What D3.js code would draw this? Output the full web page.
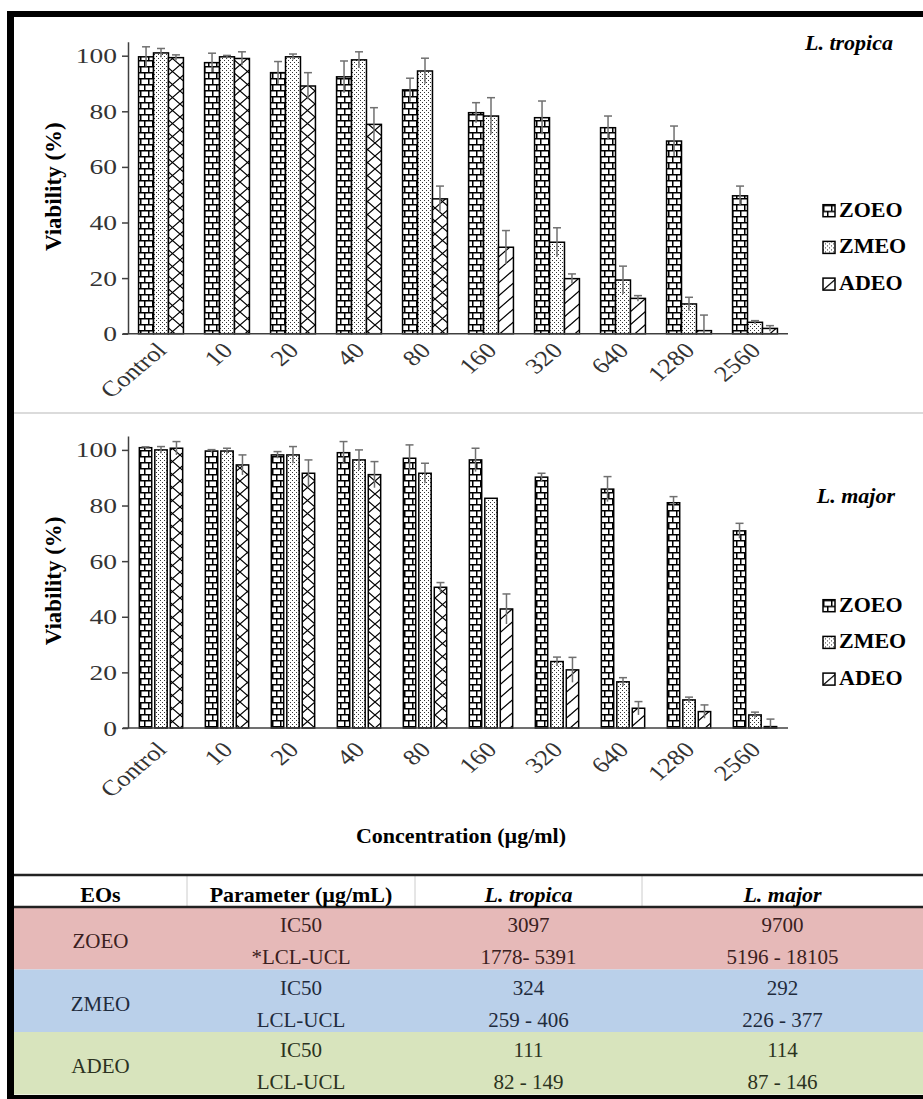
<!DOCTYPE html>
<html>
<head>
<meta charset="utf-8">
<script src="https://cdn.jsdelivr.net/npm/d3@7/dist/d3.min.js"></script>
<style>
  body { margin: 0; background: #fff; }
  svg text { font-family: 'Liberation Serif', 'Times New Roman', serif; }
</style>
</head>
<body>
<div id="chart"></div>
<script>
// Viability of Leishmania promastigotes vs. essential oil concentration
const concentrations = ['Control', '10', '20', '40', '80', '160', '320', '640', '1280', '2560'];
const series = ['ZOEO', 'ZMEO', 'ADEO'];

// L. tropica (top panel)
const tropicaZOEO = [99.6, 97.5, 93.9, 92.4, 87.7, 79.5, 77.7, 74.1, 69.3, 49.6];
const tropicaZOEOErr = [3.6, 3.4, 4.0, 5.7, 4.2, 3.6, 6.0, 4.2, 5.4, 3.5];
const tropicaZMEO = [101.0, 99.6, 99.6, 98.5, 94.5, 78.3, 32.9, 19.3, 10.7, 4.1];
const tropicaZMEOErr = [1.6, 0.5, 1.0, 2.9, 4.6, 6.6, 5.2, 5.0, 2.4, 0.6];
const tropicaADEO = [99.3, 99.0, 89.1, 75.3, 48.5, 31.1, 19.8, 12.7, 1.1, 1.9];
const tropicaADEOErr = [1.0, 2.4, 4.8, 6.0, 4.6, 6.0, 1.7, 1.0, 5.6, 1.0];

// L. major (bottom panel)
const majorZOEO = [100.8, 99.6, 98.2, 99.0, 97.0, 96.4, 90.2, 85.9, 81.0, 70.9];
const majorZOEOErr = [0.3, 0.5, 1.2, 4.0, 4.8, 4.2, 1.4, 4.5, 2.2, 2.7];
const majorZMEO = [100.0, 99.6, 98.2, 96.4, 91.6, 82.6, 23.9, 16.6, 10.1, 4.7];
const majorZMEOErr = [1.2, 1.0, 3.0, 3.6, 3.6, 0, 1.6, 1.5, 1.0, 1.0];
const majorADEO = [100.6, 94.6, 91.6, 91.1, 50.6, 42.8, 20.9, 7.1, 5.9, 0.5];
const majorADEOErr = [2.4, 3.6, 4.8, 4.7, 1.7, 5.4, 4.5, 2.4, 2.4, 2.7];

const yTicks = [0, 20, 40, 60, 80, 100];

// IC50 table
const tableHeaders = ['EOs', 'Parameter (µg/mL)', 'L. tropica', 'L. major'];
const eoNames = ['ZOEO', 'ZMEO', 'ADEO'];
const paramLabels = [['IC50', '*LCL-UCL'], ['IC50', 'LCL-UCL'], ['IC50', 'LCL-UCL']];
const tropicaIC50 = ['3097', '324', '111'];
const tropicaCL = ['1778- 5391', '259 - 406', '82 - 149'];
const majorIC50 = ['9700', '292', '114'];
const majorCL = ['5196 - 18105', '226 - 377', '87 - 146'];

const W = 923, H = 1099;
const svg = d3.select('#chart').append('svg')
  .attr('width', W).attr('height', H)
  .style('display', 'block');

// ---- patterns ----
const defs = svg.append('defs');

const brick = defs.append('pattern').attr('id', 'brick')
  .attr('patternUnits', 'userSpaceOnUse').attr('width', 8).attr('height', 12);
brick.append('rect').attr('width', 8).attr('height', 12).attr('fill', '#fff');
brick.append('path')
  .attr('d', 'M0,0.75H8M0,6.75H8M0.75,0V6.75M4.75,6.75V12')
  .attr('stroke', '#000').attr('stroke-width', 1.5).attr('fill', 'none');

const dots = defs.append('pattern').attr('id', 'dots')
  .attr('patternUnits', 'userSpaceOnUse').attr('width', 4).attr('height', 4);
dots.append('rect').attr('width', 4).attr('height', 4).attr('fill', '#fff');
dots.append('rect').attr('x', 0).attr('y', 0).attr('width', 1).attr('height', 1).attr('fill', '#333');
dots.append('rect').attr('x', 2).attr('y', 2).attr('width', 1).attr('height', 1).attr('fill', '#333');

const cross = defs.append('pattern').attr('id', 'cross')
  .attr('patternUnits', 'userSpaceOnUse').attr('width', 15).attr('height', 13);
cross.append('rect').attr('width', 15).attr('height', 13).attr('fill', '#fff');
cross.append('path')
  .attr('d', 'M0,0L15,13M15,0L0,13')
  .attr('stroke', '#000').attr('stroke-width', 1.2).attr('fill', 'none');

const diag = defs.append('pattern').attr('id', 'diag')
  .attr('patternUnits', 'userSpaceOnUse').attr('width', 15).attr('height', 13);
diag.append('rect').attr('width', 15).attr('height', 13).attr('fill', '#fff');
diag.append('path')
  .attr('d', 'M0,13L15,0M-2,2L2,-2M13,15L17,11')
  .attr('stroke', '#000').attr('stroke-width', 1.3).attr('fill', 'none');

function fillFor(s, i) {
  if (s === 'ZOEO') return 'url(#brick)';
  if (s === 'ZMEO') return 'url(#dots)';
  return i < 5 ? 'url(#cross)' : 'url(#diag)';
}

// ---- panels ----
function drawPanel(opts) {
  const { values, errors, yBottom, yTop, subPadding, species, speciesX, speciesY,
          legendY, tickDy } = opts;

  const g = svg.append('g');

  const x = d3.scaleBand()
    .domain(concentrations)
    .range([128, 788])
    .paddingInner(0.32)
    .paddingOuter(0.16);

  const xs = d3.scaleBand()
    .domain(series)
    .range([0, x.bandwidth()])
    .paddingInner(subPadding)
    .paddingOuter(subPadding / 4);

  const y = d3.scaleLinear().domain([0, 105]).range([yBottom, yTop]);

  // y axis
  const yAxis = g.append('g')
    .attr('transform', 'translate(128,0)')
    .call(d3.axisLeft(y).tickValues(yTicks).tickSize(6).tickSizeOuter(0));
  yAxis.select('.domain').attr('stroke', '#404040').attr('stroke-width', 1.5);
  yAxis.selectAll('.tick line').attr('stroke', '#404040').attr('stroke-width', 1.5);
  yAxis.selectAll('.tick text')
    .attr('x', 0).attr('dy', 0)
    .attr('transform', 'translate(-11,7) scale(1.25,1)')
    .attr('font-size', 22).attr('fill', '#333')
    .style('font-family', "'Liberation Serif', serif");

  // bars
  const rows = [];
  concentrations.forEach((c, i) => {
    series.forEach((s, k) => {
      rows.push({ c, i, s, v: values[k][i], e: errors[k][i] });
    });
  });

  g.selectAll('.bar')
    .data(rows)
    .join('rect')
    .attr('class', 'bar')
    .attr('x', d => x(d.c) + xs(d.s))
    .attr('y', d => y(d.v))
    .attr('width', xs.bandwidth())
    .attr('height', d => y(0) - y(d.v))
    .attr('fill', d => fillFor(d.s, d.i))
    .attr('stroke', '#000')
    .attr('stroke-width', 1.5);

  // error bars
  const eb = g.selectAll('.err')
    .data(rows.filter(d => d.e > 0))
    .join('g')
    .attr('class', 'err')
    .attr('stroke', '#707070')
    .attr('stroke-width', 1.5);
  eb.append('line')
    .attr('x1', d => x(d.c) + xs(d.s) + xs.bandwidth() / 2)
    .attr('x2', d => x(d.c) + xs(d.s) + xs.bandwidth() / 2)
    .attr('y1', d => y(Math.max(0, d.v - d.e)))
    .attr('y2', d => y(d.v + d.e));
  eb.append('line')
    .attr('x1', d => x(d.c) + xs(d.s) + xs.bandwidth() / 2 - 4)
    .attr('x2', d => x(d.c) + xs(d.s) + xs.bandwidth() / 2 + 4)
    .attr('y1', d => y(d.v + d.e))
    .attr('y2', d => y(d.v + d.e));

  // x axis
  const xAxis = g.append('g')
    .attr('transform', `translate(0,${yBottom})`)
    .call(d3.axisBottom(x).tickSize(0).tickSizeOuter(0));
  xAxis.select('.domain')
    .attr('d', 'M123,0H788')
    .attr('stroke', '#404040').attr('stroke-width', 1.5);
  xAxis.selectAll('.tick text')
    .attr('y', 0).attr('dy', 0)
    .attr('text-anchor', 'end')
    .attr('transform', `translate(7,${tickDy}) scale(1.2,1) rotate(-45)`)
    .attr('font-size', 22).attr('fill', '#333')
    .style('font-family', "'Liberation Serif', serif");

  // y label
  const mid = (yBottom + y(100)) / 2 - 8;
  g.append('text')
    .attr('transform', `translate(61,${mid}) rotate(-90)`)
    .attr('text-anchor', 'middle')
    .attr('font-size', 23).attr('font-weight', 'bold')
    .text('Viability (%)');

  // species label
  g.append('text')
    .attr('x', speciesX).attr('y', speciesY)
    .attr('text-anchor', 'end')
    .attr('font-size', 22).attr('font-weight', 'bold').attr('font-style', 'italic')
    .text(species);

  // legend
  const lg = g.selectAll('.legend')
    .data(series)
    .join('g')
    .attr('class', 'legend')
    .attr('transform', (d, k) => `translate(823,${legendY + k * 36.7})`);
  lg.append('rect')
    .attr('x', 0).attr('y', -12)
    .attr('width', 12).attr('height', 12)
    .attr('fill', d => d === 'ADEO' ? 'url(#diag)' : fillFor(d, 0))
    .attr('stroke', '#000').attr('stroke-width', 1.5);
  lg.append('text')
    .attr('x', 16).attr('y', 0)
    .attr('font-size', 22).attr('font-weight', 'bold')
    .text(d => d);
}

drawPanel({
  values: [tropicaZOEO, tropicaZMEO, tropicaADEO],
  errors: [tropicaZOEOErr, tropicaZMEOErr, tropicaADEOErr],
  yBottom: 333.7, yTop: 41.8, subPadding: 0,
  species: 'L. tropica', speciesX: 893, speciesY: 50,
  legendY: 216.7, tickDy: 18
});

drawPanel({
  values: [majorZOEO, majorZMEO, majorADEO],
  errors: [majorZOEOErr, majorZMEOErr, majorADEOErr],
  yBottom: 728, yTop: 436, subPadding: 0.2,
  species: 'L. major', speciesX: 895, speciesY: 503,
  legendY: 611.7, tickDy: 23
});

// panel separator
svg.append('line')
  .attr('x1', 14).attr('x2', W).attr('y1', 413).attr('y2', 413)
  .attr('stroke', '#cfcfcf').attr('stroke-width', 1.5);

svg.append('text')
  .attr('x', 461).attr('y', 843)
  .attr('text-anchor', 'middle')
  .attr('font-size', 22).attr('font-weight', 'bold')
  .text('Concentration (µg/ml)');

// ---- table ----
const colEdges = [14, 187, 415, 642, W];
const colCenter = k => (colEdges[k] + colEdges[k + 1]) / 2;
const headTop = 875, headBottom = 907, rowH = 62.5;
const rowColors = ['#e6b9b8', '#bad0ea', '#d8e4bd'];
const rowText = ['#3a2020', '#1f2b3c', '#2b3220'];

const table = svg.append('g');

table.selectAll('.rowbg')
  .data(eoNames)
  .join('rect')
  .attr('x', 14).attr('y', (d, r) => headBottom + r * rowH)
  .attr('width', W - 14).attr('height', rowH)
  .attr('fill', (d, r) => rowColors[r]);

table.selectAll('.vsep')
  .data(colEdges.slice(1, 4))
  .join('line')
  .attr('x1', d => d).attr('x2', d => d)
  .attr('y1', headTop).attr('y2', headBottom)
  .attr('stroke', '#cccccc').attr('stroke-width', 1);

table.append('line')
  .attr('x1', 14).attr('x2', W).attr('y1', headTop).attr('y2', headTop)
  .attr('stroke', '#222').attr('stroke-width', 2.5);
table.append('line')
  .attr('x1', 14).attr('x2', W).attr('y1', headBottom).attr('y2', headBottom)
  .attr('stroke', '#222').attr('stroke-width', 2.5);

table.selectAll('.head')
  .data(tableHeaders)
  .join('text')
  .attr('x', (d, k) => colCenter(k))
  .attr('y', headTop + 27)
  .attr('text-anchor', 'middle')
  .attr('font-size', 22).attr('font-weight', 'bold')
  .attr('font-style', (d, k) => k >= 2 ? 'italic' : 'normal')
  .text(d => d);

eoNames.forEach((name, r) => {
  const top = headBottom + r * rowH;
  const cells = [
    [colCenter(0), top + 41, name],
    [colCenter(1), top + 25, paramLabels[r][0]],
    [colCenter(1), top + 57, paramLabels[r][1]],
    [colCenter(2), top + 25, tropicaIC50[r]],
    [colCenter(2), top + 57, tropicaCL[r]],
    [colCenter(3), top + 25, majorIC50[r]],
    [colCenter(3), top + 57, majorCL[r]]
  ];
  table.selectAll(null)
    .data(cells)
    .join('text')
    .attr('x', d => d[0]).attr('y', d => d[1])
    .attr('text-anchor', 'middle')
    .attr('font-size', 21)
    .attr('fill', rowText[r])
    .text(d => d[2]);
});

// ---- outer frame ----
svg.append('rect').attr('x', 7).attr('y', 11).attr('width', 7).attr('height', H - 11).attr('fill', '#000');
svg.append('rect').attr('x', 7).attr('y', 11).attr('width', W - 7).attr('height', 6).attr('fill', '#000');
svg.append('rect').attr('x', 7).attr('y', 1095).attr('width', W - 7).attr('height', 4).attr('fill', '#000');
</script>
</body>
</html>
